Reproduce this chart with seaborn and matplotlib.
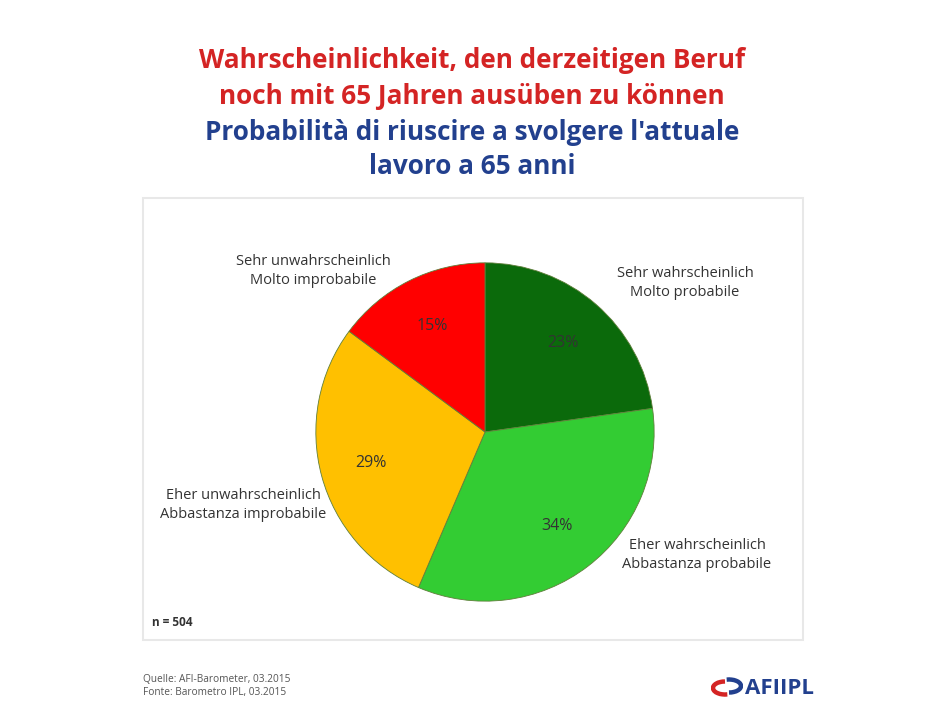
import matplotlib
matplotlib.use("Agg")
import matplotlib.pyplot as plt
import matplotlib.patches as mpatches
import seaborn as sns

sns.set_style("white")
plt.rcParams['font.family'] = ['Open Sans', 'DejaVu Sans']

# Data
categories_de = ["Sehr wahrscheinlich", "Eher wahrscheinlich", "Eher unwahrscheinlich", "Sehr unwahrscheinlich"]
categories_it = ["Molto probabile", "Abbastanza probabile", "Abbastanza improbabile", "Molto improbabile"]
values = [23, 34, 29, 15]
colors = ["#0b6a0b", "#33cc33", "#ffc000", "#ff0000"]

title_de = ["Wahrscheinlichkeit, den derzeitigen Beruf", "noch mit 65 Jahren ausüben zu können"]
title_it = ["Probabilità di riuscire a svolgere l'attuale", "lavoro a 65 anni"]
sample_note = "n = 504"
source_lines = ["Quelle: AFI-Barometer, 03.2015", "Fonte: Barometro IPL, 03.2015"]
logo_text = "AFIIPL"

W, H = 927, 726
fig = plt.figure(figsize=(W / 100, H / 100), dpi=100)
fig.patch.set_facecolor("white")

def fx(x):
    return x / W

def fy(y):
    return 1 - y / H

# panel box
panel = mpatches.Rectangle((fx(143), fy(640)), fx(803) - fx(143), fy(198) - fy(640),
                           transform=fig.transFigure, facecolor="white",
                           edgecolor="#e8e8e8", linewidth=1.5, zorder=-5)
fig.patches.append(panel)

# titles
red, blue = "#d42424", "#22408e"
tfs = 18.8
fig.text(fx(472), fy(61), title_de[0], color=red, fontsize=tfs, fontweight="bold", ha="center", va="center")
fig.text(fx(472), fy(97), title_de[1], color=red, fontsize=tfs, fontweight="bold", ha="center", va="center")
fig.text(fx(472), fy(133), title_it[0], color=blue, fontsize=tfs, fontweight="bold", ha="center", va="center")
fig.text(fx(472), fy(167), title_it[1], color=blue, fontsize=tfs, fontweight="bold", ha="center", va="center")

# pie
cx, cy, r = 485, 432, 170
ax = fig.add_axes([fx(cx - r), fy(cy + r), 2 * r / W, 2 * r / H])
wedges, texts, autotexts = ax.pie(values, colors=colors, startangle=90, counterclock=False,
                                  autopct="%1.0f%%", pctdistance=0.7,
                                  wedgeprops=dict(edgecolor="#5f7f3a", linewidth=0.6),
                                  textprops=dict(fontsize=11.5, color="#333333"))
for t, v in zip(autotexts, values):
    t.set_text(f"{v}%")
ax.set_xlim(-1.005, 1.005)
ax.set_ylim(-1.005, 1.005)
ax.set_aspect("equal")
ax.axis("off")

# category labels
label_pos = [(685, 283), (697, 555), (243, 505), (313, 271)]
for (x, y), de, it in zip(label_pos, categories_de, categories_it):
    fig.text(fx(x), fy(y), de + "\n" + it, fontsize=10.5, color="#333333", ha="center", va="center",
             linespacing=1.35)

fig.text(fx(152), fy(622), sample_note, fontsize=8.5, fontweight="bold", color="#333333", ha="left", va="center")

fig.text(fx(143), fy(686), source_lines[0] + "\n" + source_lines[1], fontsize=7.3, color="#555555",
         ha="left", va="center", linespacing=1.25)

# logo
lax = fig.add_axes([fx(711), fy(697), 32 / W, 20 / H])
lax.set_xlim(0, 32)
lax.set_ylim(0, 20)
lax.axis("off")
lax.add_patch(mpatches.Arc((14, 9), 24, 13, theta1=90, theta2=290, color=red, lw=3.2))
lax.add_patch(mpatches.Arc((18, 11), 24, 13, theta1=270, theta2=110, color=blue, lw=3.2))
fig.text(fx(745), fy(688), logo_text, fontsize=16, color=blue, fontweight="bold", ha="left", va="center")

fig.savefig("out.png", dpi=100, facecolor="white")
